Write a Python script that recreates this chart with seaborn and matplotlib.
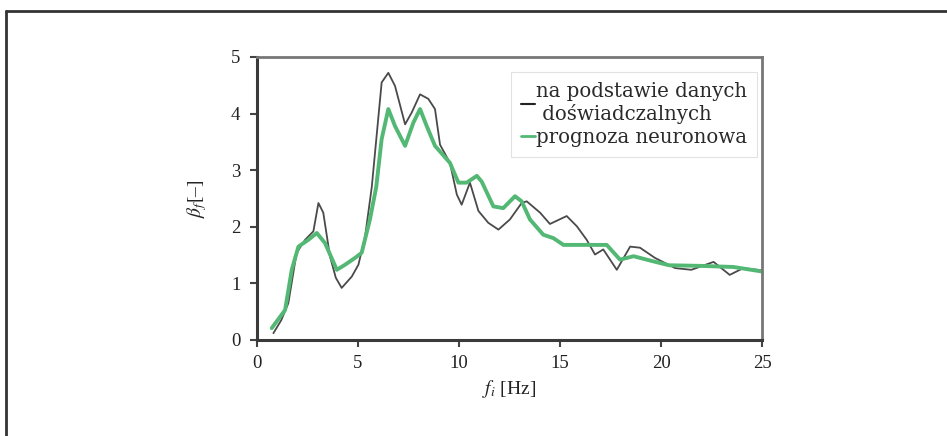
import numpy as np
import pandas as pd
import matplotlib
matplotlib.use("Agg")
import matplotlib.pyplot as plt
import seaborn as sns
from matplotlib.lines import Line2D

# measured curve (black)
f_exp = [0.81, 1.2, 1.55, 1.96, 2.38, 2.79, 3.04, 3.28, 3.61, 3.9, 4.19, 4.69, 5.02,
         5.35, 5.68, 6.17, 6.5, 6.83, 7.33, 7.66, 8.07, 8.48, 8.81, 9.06, 9.55,
         9.89, 10.13, 10.54, 10.96, 11.45, 11.95, 12.52, 13.1, 13.35, 14.01,
         14.5, 15.33, 15.83, 16.32, 16.73, 17.14, 17.81, 18.47, 18.96, 19.7,
         20.7, 21.5, 22.6, 23.4, 24.07, 25.0]
b_exp = [0.12, 0.35, 0.65, 1.54, 1.77, 1.92, 2.42, 2.25, 1.48, 1.1, 0.92, 1.12, 1.33,
         1.83, 2.7, 4.55, 4.72, 4.49, 3.81, 4.02, 4.34, 4.26, 4.08, 3.45, 3.13,
         2.57, 2.39, 2.78, 2.28, 2.07, 1.95, 2.13, 2.42, 2.45, 2.25,
         2.05, 2.19, 2.01, 1.77, 1.51, 1.6, 1.24, 1.65, 1.63, 1.45,
         1.27, 1.24, 1.38, 1.15, 1.27, 1.23]

# neural network prediction (green)
f_nn = [0.73, 1.39, 1.72, 2.05, 2.54, 2.96, 3.37, 3.95, 4.36, 4.85, 5.18, 5.59,
        5.9, 6.17, 6.5, 6.83, 7.33, 7.74, 8.07, 8.4, 8.81, 9.55, 9.97, 10.38,
        10.88, 11.12, 11.7, 12.19, 12.77, 13.1, 13.51, 14.17, 14.67, 15.17,
        16.0, 17.31, 17.97, 18.64, 19.5, 20.4, 21.9, 23.58, 25.0]
b_nn = [0.21, 0.53, 1.24, 1.65, 1.77, 1.89, 1.71, 1.24, 1.33, 1.45, 1.54, 2.13,
        2.7, 3.55, 4.08, 3.78, 3.43, 3.84, 4.08, 3.78, 3.43, 3.13, 2.78, 2.78,
        2.9, 2.8, 2.36, 2.33, 2.54, 2.45, 2.13, 1.86, 1.8, 1.68,
        1.68, 1.68, 1.42, 1.48, 1.4, 1.32, 1.31, 1.29, 1.21]

labels = ["na podstawie danych\n doświadczalnych", "prognoza neuronowa"]
x_ticks = [0, 5, 10, 15, 20, 25]
y_ticks = [0, 1, 2, 3, 4, 5]

df_exp = pd.DataFrame({"f": f_exp, "beta": b_exp})
df_nn = pd.DataFrame({"f": f_nn, "beta": b_nn})

sns.set_style("ticks")
plt.rcParams["font.family"] = ["Liberation Serif", "DejaVu Serif"]
plt.rcParams["mathtext.fontset"] = "stix"

fig = plt.figure(figsize=(9.47, 4.36), dpi=100)
ax = fig.add_axes([0.2714, 0.2202, 0.5333, 0.6491])

sns.lineplot(data=df_exp, x="f", y="beta", ax=ax, color="#4a4a4a",
             linewidth=1.3, sort=False)
sns.lineplot(data=df_nn, x="f", y="beta", ax=ax, color="#52b874",
             linewidth=2.8, sort=False)

ax.set_xlim(0, 25)
ax.set_ylim(0, 5)
ax.set_xticks(x_ticks)
ax.set_yticks(y_ticks)
ax.tick_params(labelsize=13.5, length=5, width=1.5, colors="#444444",
               labelcolor="#222222")
ax.tick_params(axis="x", pad=6)
ax.tick_params(axis="y", pad=7)

for side in ["left", "bottom"]:
    ax.spines[side].set_color("#3a3a3a")
    ax.spines[side].set_linewidth(2.2)
for side in ["top", "right"]:
    ax.spines[side].set_visible(True)
    ax.spines[side].set_color("#777777")
    ax.spines[side].set_linewidth(2)

ax.set_xlabel("$f_i$ [Hz]", fontsize=14, color="#222222", labelpad=4)
ax.set_ylabel(r"$\beta_f$[–]", fontsize=14, color="#222222", labelpad=16)

handles = [Line2D([], [], color="#222222", linewidth=1.5),
           Line2D([], [], color="#52b874", linewidth=2.0)]
leg = ax.legend(handles, labels, loc="upper right",
                prop={"family": "DejaVu Serif", "size": 14.2},
                handlelength=0.7, handletextpad=0.05, borderpad=0.5,
                labelspacing=0.2, fancybox=False, framealpha=1,
                borderaxespad=0, bbox_to_anchor=(0.99, 0.947))
leg.get_frame().set_edgecolor("#e2e2e2")
leg.get_frame().set_linewidth(0.8)
for t in leg.get_texts():
    t.set_color("#2a2a2a")

# outer frame of the figure (top and left edge)
fig.add_artist(Line2D([6 / 947, 6 / 947], [1 - 11 / 436, 0.0],
                      transform=fig.transFigure, color="#333333", linewidth=2))
fig.add_artist(Line2D([6 / 947, 1.0], [1 - 11 / 436, 1 - 11 / 436],
                      transform=fig.transFigure, color="#333333", linewidth=2))

fig.savefig("out.png", dpi=100)
